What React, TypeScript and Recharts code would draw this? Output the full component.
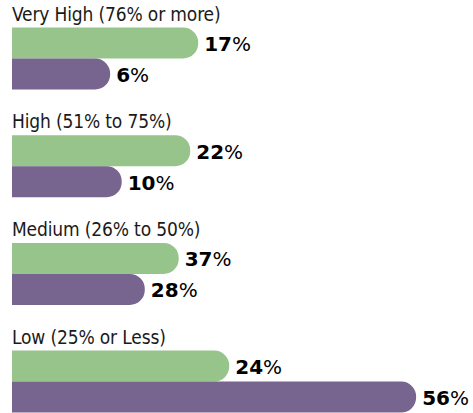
import React from "react";
import { BarChart, Bar, XAxis, YAxis, LabelList } from "recharts";

const categories = [
  "Very High (76% or more)",
  "High (51% to 75%)",
  "Medium (26% to 50%)",
  "Low (25% or Less)",
];

// printed values next to each bar
const greenValues = [17, 22, 37, 24];
const purpleValues = [6, 10, 28, 56];

// drawn bar lengths in the same % units
// (the source bars do not follow the printed numbers)
const greenLengths = [25.8, 24.7, 23.1, 30.1];
const purpleLengths = [13.6, 15.2, 18.4, 56];

const GREEN = "#97c48b";
const PURPLE = "#77648f";

const data = categories.map((name, i) => ({
  name,
  green: greenLengths[i],
  purple: purpleLengths[i],
  greenLabel: greenValues[i],
  purpleLabel: purpleValues[i],
}));

const titleLabel = (props: any) => {
  const { x, y, index } = props;
  return (
    <text
      x={x}
      y={y - 7}
      fill="#1a1a1a"
      fontSize={19}
      letterSpacing={-0.15}
      fontFamily="'Liberation Sans Narrow', 'DejaVu Sans Condensed', sans-serif"
    >
      {data[index].name}
    </text>
  );
};

const makeLabel = (key: "greenLabel" | "purpleLabel") => (props: any) => {
  const { x, y, width, height, index } = props;
  return (
    <text
      x={x + width + 6}
      y={y + height / 2 + 1}
      dominantBaseline="central"
      fill="#000"
      fontSize={20}
      fontFamily="'DejaVu Sans', sans-serif"
    >
      <tspan fontWeight="bold">{data[index][key]}</tspan>
      <tspan fontWeight="normal">%</tspan>
    </text>
  );
};

export default function App() {
  return (
    <div
      style={{
        position: "absolute",
        left: 0,
        top: 0,
        width: 473,
        height: 413,
        overflow: "hidden",
        background: "#fff",
      }}
    >
      <BarChart
        width={473}
        height={440}
        data={data}
        layout="vertical"
        barGap={0}
        margin={{ top: 4.5, right: 28, bottom: 4.7, left: 12 }}
      >
        <XAxis type="number" domain={[0, 60]} hide />
        <YAxis type="category" dataKey="name" hide />
        <Bar
          dataKey="green"
          fill={GREEN}
          barSize={31}
          radius={[0, 15, 15, 0]}
          isAnimationActive={false}
        >
          <LabelList dataKey="name" content={titleLabel} />
          <LabelList dataKey="greenLabel" content={makeLabel("greenLabel")} />
        </Bar>
        <Bar
          dataKey="purple"
          fill={PURPLE}
          barSize={31}
          radius={[0, 15, 15, 0]}
          isAnimationActive={false}
        >
          <LabelList dataKey="purpleLabel" content={makeLabel("purpleLabel")} />
        </Bar>
      </BarChart>
    </div>
  );
}
